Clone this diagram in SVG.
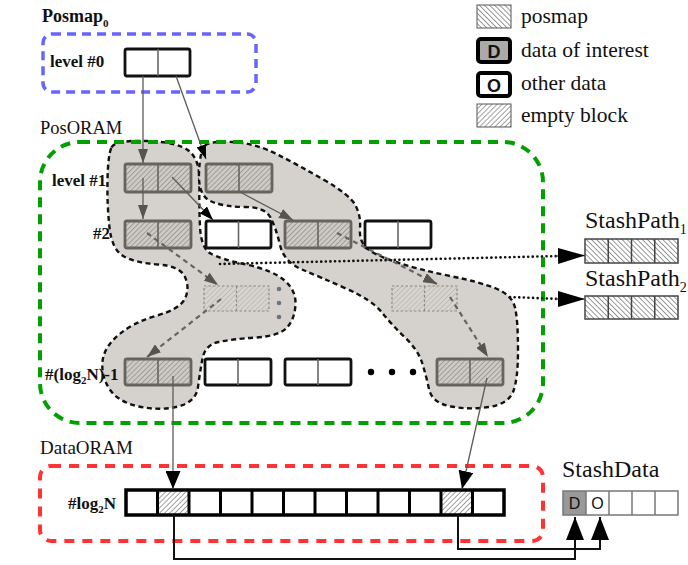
<svg xmlns="http://www.w3.org/2000/svg" width="688" height="565" viewBox="0 0 688 565">
<style>
.t{font-family:"Liberation Serif","Times New Roman",serif;fill:#111}
.lb{font-family:"Liberation Serif","Times New Roman",serif;font-weight:bold;font-size:17px;fill:#111}
.s{font-family:"Liberation Sans",Arial,sans-serif;fill:#111}
.blob{fill:#d5d2ce;stroke:#111;stroke-width:2.4;stroke-dasharray:5 3.5}
.gb{fill:url(#hg);stroke:#67635d;stroke-width:2.8}
.gd{fill:#67635d;stroke:#67635d;stroke-width:1.6}
.fb{fill:url(#hf);stroke:#8d8a86;stroke-width:1.2;stroke-dasharray:2.5 2}
.fd{stroke:#8d8a86;stroke-width:1.2;stroke-dasharray:2.5 2}
.wb{fill:#fff;stroke:#111;stroke-width:2.8}
.wd{stroke:#666;stroke-width:1.6}
.ga{stroke:#5f5b55;stroke-width:1.3;fill:none}
.gda{stroke:#67635d;stroke-width:2.2;stroke-dasharray:5 4;fill:none}
.bl{stroke:#111;stroke-width:2;fill:none}
.dot{stroke:#111;stroke-width:2.6;stroke-dasharray:0.1 4.5;stroke-linecap:round;fill:none}
</style>
<defs>
<pattern id="hg" patternUnits="userSpaceOnUse" width="3.6" height="3.6" patternTransform="rotate(45)"><rect width="3.6" height="3.6" fill="#cdc9c4"/><line x1="0" y1="0" x2="0" y2="3.6" stroke="#7d7973" stroke-width="1.1"/></pattern>
<pattern id="hf" patternUnits="userSpaceOnUse" width="3.6" height="3.6" patternTransform="rotate(45)"><rect width="3.6" height="3.6" fill="#d7d4d0"/><line x1="0" y1="0" x2="0" y2="3.6" stroke="#aaa6a1" stroke-width="1"/></pattern>
<pattern id="he" patternUnits="userSpaceOnUse" width="3.6" height="3.6" patternTransform="rotate(45)"><rect width="3.6" height="3.6" fill="#fff"/><line x1="0" y1="0" x2="0" y2="3.6" stroke="#444" stroke-width="1"/></pattern>
<pattern id="hp" patternUnits="userSpaceOnUse" width="3.6" height="3.6" patternTransform="rotate(-45)"><rect width="3.6" height="3.6" fill="#fff"/><line x1="0" y1="0" x2="0" y2="3.6" stroke="#333" stroke-width="1"/></pattern>
<marker id="ag" markerUnits="userSpaceOnUse" markerWidth="14" markerHeight="10" refX="14" refY="5" orient="auto"><path d="M0,0 L14,5 L0,10 Z" fill="#57534d"/></marker>
<marker id="ab" markerUnits="userSpaceOnUse" markerWidth="14" markerHeight="10" refX="14" refY="5" orient="auto"><path d="M0,0 L14,5 L0,10 Z" fill="#000"/></marker>
<marker id="aB" markerUnits="userSpaceOnUse" markerWidth="18" markerHeight="15" refX="18" refY="7.5" orient="auto"><path d="M0,0 L18,7.5 L0,15 Z" fill="#000"/></marker>
<marker id="aS" markerUnits="userSpaceOnUse" markerWidth="23" markerHeight="18" refX="23" refY="9" orient="auto"><path d="M0,0 L23,9 L0,18 Z" fill="#000"/></marker>
<marker id="aP" markerUnits="userSpaceOnUse" markerWidth="27" markerHeight="16" refX="27" refY="8" orient="auto"><path d="M0,0 L27,8 L0,16 Z" fill="#000"/></marker>
</defs>
<rect width="688" height="565" fill="#fff"/>

<!-- path blobs -->
<g id="path-blob-1">
<path class="blob" d="M111.5,147.5 Q115,140 146.5,141 Q178,142 189,151 Q200,160 199.5,182.5 Q199,205 200,226.5 Q201,248 210.5,253.5 Q220,259 246,264.5 Q272,270 284,280 Q296,290 295.5,304 Q295,318 287.5,327 Q280,336 256,337.5 Q232,339 218.5,342 Q205,345 202.5,358.5 Q200,372 198,387 Q196,402 178,406.5 Q160,411 139,406.5 Q118,402 109.5,389 Q101,376 102.5,361.5 Q104,347 119,334.5 Q134,322 157,315.5 Q180,309 185,298.5 Q190,288 185,277 Q180,266 158,264.5 Q136,263 124,256.5 Q112,250 109.5,227.5 Q107,205 107.5,180 Q108,155 111.5,147.5 Z"/>
</g>
<g id="path-blob-2">
<path class="blob" d="M205,145.5 Q210,141 232.5,142 Q255,143 277.5,154.5 Q300,166 325,180.5 Q350,195 355.5,205.5 Q361,216 360,228 Q359,240 365.5,247 Q372,254 396,262 Q420,270 450,276 Q480,282 496,288.5 Q512,295 515,307.5 Q518,320 518,350 Q518,380 513,392 Q508,404 489,407 Q470,410 451,406.5 Q432,403 429,389 Q426,375 422,362.5 Q418,350 405,337.5 Q392,325 382,312.5 Q372,300 346,288.5 Q320,277 302,269.5 Q284,262 280,245 Q276,228 270.5,217.5 Q265,207 245,207 Q225,207 211.5,201.5 Q198,196 199,173 Q200,150 205,145.5 Z"/>
</g>

<!-- region boxes -->
<g id="posmap0">
<rect x="43" y="34" width="213" height="58" rx="9" fill="none" stroke="#6666ff" stroke-width="3.5" stroke-dasharray="9 6"/>
<text class="t" x="42" y="22" font-size="18" font-weight="bold">Posmap<tspan font-size="11" dy="5">0</tspan></text>
<text class="lb" x="50" y="67">level #0</text>
</g>
<g id="posoram">
<rect x="40" y="142" width="503" height="281" rx="40" fill="none" stroke="#00a000" stroke-width="4" stroke-dasharray="10 7"/>
<text class="t" x="40" y="134" font-size="18.5">PosORAM</text>
<text class="lb" x="52" y="186">level #1</text>
<text class="lb" x="93" y="239">#2</text>
<text class="lb" x="45" y="380">#(log<tspan font-size="11" dy="4">2</tspan><tspan dy="-4">N)-1</tspan></text>
</g>
<g id="dataoram">
<rect x="40" y="466" width="503" height="75" rx="11" fill="none" stroke="#ff3333" stroke-width="4" stroke-dasharray="10 8"/>
<text class="t" x="40" y="454" font-size="19">DataORAM</text>
<text class="lb" x="68" y="509">#log<tspan font-size="11" dy="4">2</tspan><tspan dy="-4">N</tspan></text>
</g>

<!-- level 0 block -->
<g id="l0">
<rect class="wb" x="125" y="49" width="65" height="27" rx="2"/>
<line class="wd" x1="158" y1="49" x2="158" y2="76"/>
</g>

<!-- level 1 -->
<g id="l1a"><rect class="gb" x="125" y="164" width="66" height="28" rx="2"/><line class="gd" x1="158" y1="164" x2="158" y2="192"/></g>
<g id="l1b"><rect class="gb" x="206" y="164" width="66" height="28" rx="2"/><line class="gd" x1="239" y1="164" x2="239" y2="192"/></g>

<!-- level 2 -->
<g id="l2a"><rect class="gb" x="125" y="221" width="66" height="27" rx="2"/><line class="gd" x1="158" y1="221" x2="158" y2="248"/></g>
<g id="l2b"><rect class="wb" x="206" y="221" width="65" height="27" rx="2"/><line class="wd" x1="238.5" y1="221" x2="238.5" y2="248"/></g>
<g id="l2c"><rect class="gb" x="285" y="221" width="66" height="27" rx="2"/><line class="gd" x1="318" y1="221" x2="318" y2="248"/></g>
<g id="l2d"><rect class="wb" x="365" y="221" width="66" height="27" rx="2"/><line class="wd" x1="398" y1="221" x2="398" y2="248"/></g>

<!-- middle faded -->
<g id="mida"><rect class="fb" x="204" y="286" width="65" height="25"/><line class="fd" x1="236.5" y1="286" x2="236.5" y2="311"/></g>
<g id="midb"><rect class="fb" x="392" y="286" width="65" height="25"/><line class="fd" x1="424.5" y1="286" x2="424.5" y2="311"/></g>
<g id="middots" fill="#6b7380"><circle cx="279" cy="289" r="2.3"/><circle cx="279" cy="303" r="2.3"/><circle cx="279" cy="317" r="2.3"/></g>

<!-- bottom row -->
<g id="lna"><rect class="gb" x="125" y="359" width="66" height="26" rx="2"/><line class="gd" x1="158" y1="359" x2="158" y2="385"/></g>
<g id="lnb"><rect class="wb" x="205" y="359" width="66" height="26" rx="2"/><line class="wd" x1="238" y1="359" x2="238" y2="385"/></g>
<g id="lnc"><rect class="wb" x="285" y="359" width="66" height="26" rx="2"/><line class="wd" x1="318" y1="359" x2="318" y2="385"/></g>
<g id="lndots" fill="#000"><circle cx="371" cy="372" r="3.2"/><circle cx="392" cy="372" r="3.2"/><circle cx="413" cy="372" r="3.2"/></g>
<g id="lnd"><rect class="gb" x="437" y="359" width="66" height="26" rx="2"/><line class="gd" x1="470" y1="359" x2="470" y2="385"/></g>

<!-- data oram row -->
<g id="datarow">
<rect x="157.5" y="490" width="31.5" height="25" fill="url(#he)"/>
<rect x="441" y="490" width="31.5" height="25" fill="url(#he)"/>
<rect x="126" y="490" width="378" height="25" fill="none" stroke="#000" stroke-width="3.5"/>
<g stroke="#000" stroke-width="3">
<line x1="157.5" y1="490" x2="157.5" y2="515"/><line x1="189" y1="490" x2="189" y2="515"/><line x1="220.5" y1="490" x2="220.5" y2="515"/><line x1="252" y1="490" x2="252" y2="515"/><line x1="283.5" y1="490" x2="283.5" y2="515"/><line x1="315" y1="490" x2="315" y2="515"/><line x1="346.5" y1="490" x2="346.5" y2="515"/><line x1="378" y1="490" x2="378" y2="515"/><line x1="409.5" y1="490" x2="409.5" y2="515"/><line x1="441" y1="490" x2="441" y2="515"/><line x1="472.5" y1="490" x2="472.5" y2="515"/>
</g>
</g>

<!-- stash path 1/2 -->
<g id="stashpath1">
<text class="t" x="585" y="228" font-size="24">StashPath<tspan font-size="14" dy="6">1</tspan></text>
<rect x="585" y="239" width="93" height="24" fill="url(#hp)" stroke="#444" stroke-width="1.5"/>
<g stroke="#444" stroke-width="1.5"><line x1="608.25" y1="239" x2="608.25" y2="263"/><line x1="631.5" y1="239" x2="631.5" y2="263"/><line x1="654.75" y1="239" x2="654.75" y2="263"/></g>
</g>
<g id="stashpath2">
<text class="t" x="585" y="286" font-size="24">StashPath<tspan font-size="14" dy="6">2</tspan></text>
<rect x="585" y="296" width="93" height="23" fill="url(#hp)" stroke="#444" stroke-width="1.5"/>
<g stroke="#444" stroke-width="1.5"><line x1="608.25" y1="296" x2="608.25" y2="319"/><line x1="631.5" y1="296" x2="631.5" y2="319"/><line x1="654.75" y1="296" x2="654.75" y2="319"/></g>
</g>

<!-- stash data -->
<g id="stashdata">
<text class="t" x="562" y="477" font-size="24">StashData</text>
<rect x="563" y="491" width="23" height="24" fill="#999"/>
<rect x="563" y="491" width="115" height="24" fill="none" stroke="#777" stroke-width="1.5"/>
<g stroke="#777" stroke-width="1.5"><line x1="586" y1="491" x2="586" y2="515"/><line x1="609" y1="491" x2="609" y2="515"/><line x1="632" y1="491" x2="632" y2="515"/><line x1="655" y1="491" x2="655" y2="515"/></g>
<text class="s" x="574.5" y="509" font-size="16" text-anchor="middle">D</text>
<text class="s" x="597.5" y="509" font-size="16" text-anchor="middle">O</text>
</g>

<!-- legend -->
<g id="legend-posmap"><rect x="477" y="5" width="34" height="23" fill="url(#hp)" stroke="#555" stroke-width="1"/><text class="t" x="521" y="23" font-size="21.5">posmap</text></g>
<g id="legend-data"><rect x="478" y="39" width="32" height="23" rx="3" fill="#aaa" stroke="#000" stroke-width="4"/><text class="s" x="494" y="57.5" font-size="18" font-weight="bold" text-anchor="middle">D</text><text class="t" x="521" y="57" font-size="21.5">data of interest</text></g>
<g id="legend-other"><rect x="478" y="73" width="32" height="23" rx="3" fill="#fff" stroke="#000" stroke-width="4"/><text class="s" x="494" y="91.5" font-size="18" font-weight="bold" text-anchor="middle">O</text><text class="t" x="521" y="90" font-size="21.5">other data</text></g>
<g id="legend-empty"><rect x="477" y="104" width="34" height="23" fill="url(#he)" stroke="#555" stroke-width="1"/><text class="t" x="521" y="122" font-size="21.5">empty block</text></g>

<!-- connectors -->
<g id="connectors">
<line class="ga" x1="143" y1="76" x2="143" y2="163" marker-end="url(#ag)"/>
<line class="ga" x1="176" y1="76" x2="206" y2="159" marker-end="url(#ab)"/>
<line class="ga" x1="143" y1="178" x2="143" y2="219" marker-end="url(#ag)"/>
<line class="ga" x1="172" y1="177" x2="213" y2="220" marker-end="url(#ab)"/>
<line class="ga" x1="240" y1="192" x2="293" y2="220" marker-end="url(#ag)"/>
<line class="gda" x1="147" y1="233" x2="218" y2="285" marker-end="url(#ag)"/>
<line class="gda" x1="221" y1="299" x2="147" y2="357" marker-end="url(#ag)"/>
<line class="gda" x1="337" y1="233" x2="437" y2="284" marker-end="url(#ag)"/>
<line class="gda" x1="450" y1="297" x2="488" y2="357" marker-end="url(#ag)"/>
<line class="ga" x1="173" y1="376" x2="173" y2="489" stroke="#777" marker-end="url(#aB)"/>
<line class="ga" x1="487" y1="378" x2="462" y2="489" stroke="#555" marker-end="url(#aB)"/>
<polyline class="bl" points="174,515 174,559 575,559 575,517" marker-end="url(#aS)"/>
<polyline class="bl" points="458,515 458,549 600,549 600,517" marker-end="url(#aS)"/>
<line class="dot" x1="220" y1="264" x2="560" y2="256"/>
<line class="ga" x1="556" y1="256" x2="585" y2="255.5" stroke="none" marker-end="url(#aP)"/>
<line class="dot" x1="510" y1="297" x2="560" y2="299"/>
<line class="ga" x1="556" y1="299" x2="585" y2="299" stroke="none" marker-end="url(#aP)"/>
</g>
</svg>
